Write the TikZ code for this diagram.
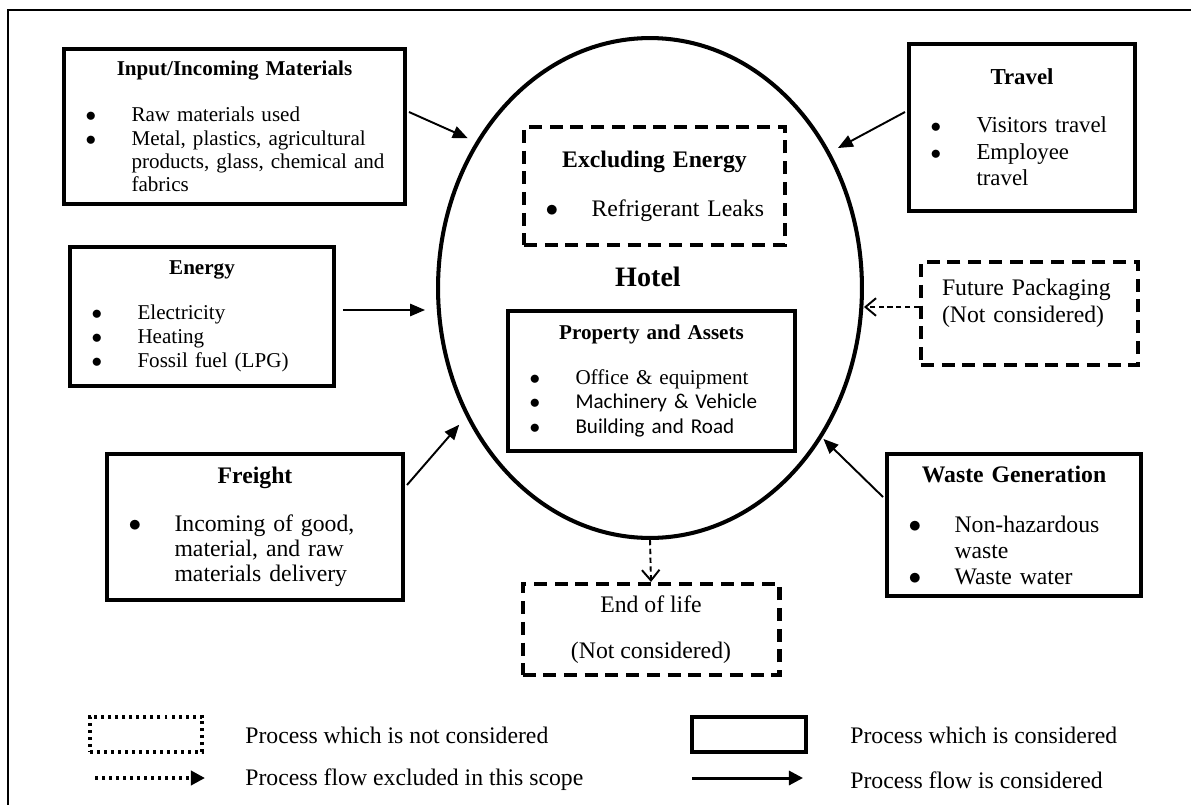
\documentclass[tikz,border=0pt]{standalone}
\usepackage{fontspec}
\setmainfont{Liberation Serif}
\newfontfamily\calib{Carlito}
\usetikzlibrary{shapes.geometric,arrows.meta,calc}

\newlength{\bulw}
\setlength{\bulw}{0.92cm}
\newcommand{\ttl}[1]{\makebox[\linewidth]{\bfseries #1}}
\newcommand{\itm}[1]{\makebox[\linewidth][l]{\makebox[\bulw][l]{$\bullet$}#1}}
\newcommand{\cnt}[1]{\makebox[\linewidth][l]{\hspace*{\bulw}#1}}

\tikzset{
  procbox/.style={draw, line width=2.3pt, inner xsep=0.43cm, inner ysep=0pt, align=center},
  skipbox/.style={draw, line width=2.3pt, dash pattern=on 7.4pt off 4.4pt, inner xsep=0.43cm, inner ysep=0pt, align=center},
  flow/.style={line width=1.1pt, -{Triangle[length=8.5pt,width=7pt]}},
  skipflow/.style={line width=1.1pt, dash pattern=on 3pt off 2pt, -{Straight Barb[length=6pt,width=10pt,line width=1.1pt]}},
  legtext/.style={anchor=west, inner sep=0pt, font=\fontsize{13.5}{15}\selectfont}
}

\begin{document}
\begin{tikzpicture}[x=0.02cm, y=-0.02cm]
  \useasboundingbox (0,0) rectangle (1191,805);
  \draw[line width=0.8pt] (8,805) -- (8,10) -- (1191,10);

  \node[draw, ellipse, line width=2.3pt, minimum width=8.48cm, minimum height=10cm, inner sep=0pt] (hotel) at (650,288) {};
  \node[font=\fontsize{16}{18}\selectfont\bfseries] (hotellbl) at (648,277) {Hotel};

  \node[procbox, minimum width=6.82cm, minimum height=3.10cm, text width=5.96cm, font=\fontsize{12}{13.3}\selectfont] (input) at (234.5,126.5)
    {\ttl{Input/Incoming Materials}\\[12.9pt]
     \itm{Raw materials used}\\
     \itm{Metal, plastics, agricultural}\\
     \cnt{products, glass, chemical and}\\
     \cnt{fabrics}};
  \node[procbox, minimum width=5.28cm, minimum height=2.78cm, text width=4.42cm, font=\fontsize{12}{13.7}\selectfont] (energy) at (202,316.5)
    {\ttl{Energy}\\[11.9pt]
     \itm{Electricity}\\
     \itm{Heating}\\
     \itm{Fossil fuel (LPG)}};
  \node[procbox, minimum width=5.92cm, minimum height=2.92cm, text width=5.06cm, font=\fontsize{13.5}{14.2}\selectfont] (freight) at (255,527)
    {\ttl{Freight}\\[13.1pt]
     \itm{Incoming of good,}\\
     \cnt{material, and raw}\\
     \cnt{materials delivery}};
  \node[procbox, minimum width=4.52cm, minimum height=3.34cm, text width=3.66cm, font=\fontsize{13}{15}\selectfont] (travel) at (1022,127.5)
    {\ttl{Travel}\\[12.3pt]
     \itm{Visitors travel}\\
     \itm{Employee}\\
     \cnt{travel}};
  \node[skipbox, minimum width=4.34cm, minimum height=2.06cm, text width=3.5cm, inner xsep=0.42cm, align=left, font=\fontsize{13.5}{15.4}\selectfont] (future) at (1029.5,313.5)
    {\raisebox{5.7pt}[\height][\depth]{\parbox{3.5cm}{Future Packaging\\(Not considered)}}};
  \node[procbox, minimum width=5.08cm, minimum height=2.84cm, text width=4.22cm, font=\fontsize{13.5}{14.8}\selectfont] (waste) at (1014,525)
    {\ttl{Waste Generation}\\[13.6pt]
     \itm{Non-hazardous}\\
     \cnt{waste}\\
     \itm{Waste water}};
  \node[skipbox, minimum width=5.22cm, minimum height=2.36cm, text width=4.36cm, font=\fontsize{13.5}{15}\selectfont] (excl) at (654.5,186)
    {\ttl{Excluding Energy}\\[12.9pt]
     \itm{Refrigerant Leaks}};
  \node[procbox, minimum width=5.74cm, minimum height=2.80cm, text width=4.88cm, font=\fontsize{12}{13.9}\selectfont] (assets) at (651.5,381)
    {\ttl{Property and Assets}\\[11.7pt]
     \itm{Office \& equipment}\\
     \itm{\calib Machinery \& Vehicle}\\
     \itm{\calib Building and Road}};
  \node[skipbox, minimum width=5.14cm, minimum height=1.82cm, font=\fontsize{13.5}{15}\selectfont] (eol) at (651,629.5)
    {End of life\\[11.2pt](Not considered)};

  \draw[flow, shorten >=5pt] ($(input.east)+(2,-14.5)$) -- (hotel.140.5);
  \draw[flow] ($(energy.east)+(7,-6.5)$) -- ($(hotel.west)+(-11,22)$);
  \draw[flow, shorten >=6pt] ($(freight.east)+(2,-42)$) -- (hotel.215.8);
  \draw[flow, shorten >=5pt] ($(travel.west)+(-2,-15.5)$) -- (hotel.37);
  \draw[flow, shorten >=1pt] ($(waste.west)+(-2,-28)$) -- (hotel.-41);
  \draw[skipflow] ($(future.west)+(0,-6.5)$) -- ($(hotel.east)+(0,19)$);
  \draw[skipflow] (hotel.south) -- (eol.north);

  \node[draw, line width=2pt, dash pattern=on 1.7pt off 2.3pt, minimum width=2.25cm, minimum height=0.71cm] (legskip) at (146,734.5) {};
  \node[legtext] (legskiptxt) at (245,735) {Process which is not considered};
  \coordinate (legskipa) at (95,778);
  \coordinate (legskipb) at (205,778);
  \draw[line width=2pt, dash pattern=on 1.7pt off 2.3pt, -{Triangle[length=8pt,width=8pt]}] (legskipa) -- (legskipb);
  \node[legtext] (legskipflow) at (245,780) {Process flow excluded in this scope};
  \node[draw, line width=2.3pt, minimum width=2.28cm, minimum height=0.71cm] (legproc) at (749,734.5) {};
  \node[legtext] (legproctxt) at (850,735) {Process which is considered};
  \coordinate (legproca) at (692,778);
  \coordinate (legprocb) at (803,778);
  \draw[line width=1.7pt, -{Triangle[length=8pt,width=8pt]}] (legproca) -- (legprocb);
  \node[legtext] (legprocflow) at (850,780) {Process flow is considered};
\end{tikzpicture}
\end{document}
